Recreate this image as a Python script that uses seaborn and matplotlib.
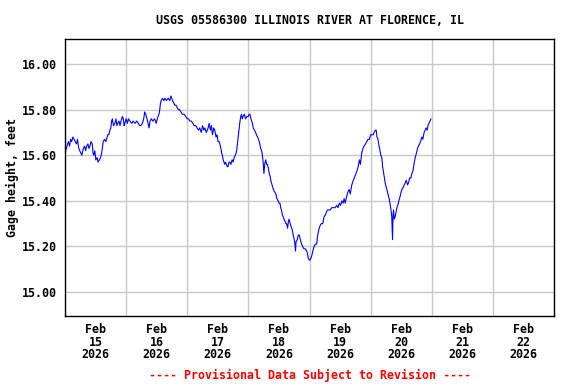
import matplotlib
matplotlib.use("Agg")
import matplotlib.pyplot as plt
import matplotlib.dates as mdates
import matplotlib.ticker as mticker
import numpy as np
import pandas as pd
import seaborn as sns

# hours since 2026-02-15 00:00 and gage height (ft)
hours = [
    0.0, 0.2, 0.8, 1.3, 1.8, 2.2, 2.6, 3.1, 3.6, 4.0, 4.5, 4.9, 5.4, 5.8, 6.2, 6.6,
    7.2, 7.7, 8.1, 8.5, 9.0, 9.4, 9.8, 10.2, 10.7, 11.0, 11.3, 11.7, 12.1, 12.6, 13.0,
    13.5, 14.0, 14.4, 15.0, 15.5, 16.0, 16.3, 16.8, 17.2, 17.6, 18.0, 18.3, 18.6, 19.0,
    19.6, 20.0, 20.4, 20.7, 21.2, 21.6, 22.0, 22.5, 22.9, 23.2, 23.5, 24.0, 24.5, 24.9,
    25.5, 26.2, 26.8, 27.5, 28.2, 28.8, 29.3, 29.8, 30.4, 30.9, 31.3, 31.7, 32.2, 32.6,
    33.0, 33.4, 33.9, 34.5, 35.2, 35.8, 36.5, 36.9, 37.2, 37.5, 37.8, 38.3, 38.8, 39.3,
    39.8, 40.5, 41.1, 41.6, 42.2, 42.7, 43.1, 43.6, 44.0, 44.5, 45.0, 45.5, 46.1, 46.8,
    47.4, 48.0, 48.5, 49.0, 49.6, 50.2, 50.7, 51.3, 51.9, 52.4, 52.9, 53.5, 54.0, 54.5,
    54.9, 55.5, 56.2, 56.6, 57.1, 57.5, 57.9, 58.4, 58.8, 59.3, 59.7, 60.1, 60.5, 60.8,
    61.2, 61.5, 61.8, 62.1, 62.4, 62.7, 63.0, 63.4, 63.7, 64.0, 64.4, 64.7, 65.1, 65.6,
    66.0, 66.4, 66.9, 67.4, 67.7, 68.0, 68.3, 68.6, 69.0, 69.3, 69.6, 69.9, 70.4, 70.9,
    71.4, 71.9, 72.3, 72.6, 73.0, 73.3, 73.6, 73.9, 74.4, 74.8, 75.2, 75.6, 76.0, 76.5,
    76.8, 77.2, 77.5, 77.8, 78.1, 78.4, 78.8, 79.2, 79.5, 79.9, 80.2, 80.5, 80.8, 81.3,
    81.8, 82.3, 82.8, 83.2, 83.7, 84.0, 84.4, 84.7, 85.0, 85.3, 85.7, 86.0, 86.4, 86.7,
    87.0, 87.4, 87.7, 88.0, 88.4, 88.7, 89.0, 89.3, 89.6, 90.0, 90.3, 90.5, 90.7, 91.2,
    91.6, 92.0, 92.4, 92.9, 93.3, 93.8, 94.3, 94.9, 95.2, 95.5, 95.9, 96.2, 96.6, 96.9,
    97.3, 97.8, 98.3, 98.8, 99.1, 99.4, 99.8, 100.1, 100.6, 101.2, 101.7, 102.3, 103.0,
    103.5, 104.1, 104.7, 105.4, 106.0, 106.7, 107.2, 107.7, 108.2, 108.7, 109.2, 109.6,
    110.0, 110.6, 111.1, 111.6, 112.0, 112.6, 112.9, 113.2, 113.9, 114.6, 115.1, 115.6,
    116.0, 116.5, 117.0, 117.4, 118.0, 118.5, 119.0, 119.5, 120.0, 120.5, 121.0, 121.4,
    121.8, 122.2, 122.5, 122.9, 123.3, 123.7, 124.0, 124.4, 124.7, 125.0, 125.4, 125.7,
    126.1, 126.4, 127.0, 127.3, 127.7, 128.0, 128.3, 128.6, 128.8, 129.0, 129.3, 129.6,
    130.0, 130.3, 130.6, 130.9, 131.3, 131.6, 132.0, 132.3, 132.8, 133.2, 133.6, 134.0,
    134.5, 134.9, 135.3, 135.8, 136.2, 136.6, 137.0, 137.5, 138.0, 138.4, 138.8, 139.2,
    139.6, 140.1, 140.5, 141.0, 141.4, 141.8, 142.2, 142.5, 142.9, 143.3, 143.7,
]
gage_ft = [
    15.61, 15.62, 15.64, 15.66, 15.64, 15.67, 15.66, 15.68, 15.67, 15.66, 15.65, 15.67, 15.63, 15.62, 15.61, 15.60,
    15.63, 15.64, 15.62, 15.64, 15.65, 15.63, 15.64, 15.66, 15.65, 15.61, 15.60, 15.62, 15.58, 15.59, 15.57,
    15.58, 15.59, 15.61, 15.66, 15.67, 15.66, 15.67, 15.69, 15.69, 15.71, 15.72, 15.75, 15.76, 15.73,
    15.74, 15.76, 15.73, 15.74, 15.75, 15.73, 15.75, 15.77, 15.76, 15.73, 15.74, 15.76, 15.74, 15.76,
    15.75, 15.74, 15.75, 15.74, 15.75, 15.74, 15.73, 15.73, 15.74, 15.76, 15.79, 15.78, 15.76, 15.74,
    15.72, 15.75, 15.76, 15.75, 15.76, 15.74, 15.77, 15.78, 15.80, 15.83, 15.84, 15.85, 15.84, 15.85,
    15.84, 15.85, 15.84, 15.86, 15.84, 15.83, 15.82, 15.82, 15.81, 15.80, 15.80, 15.79, 15.78, 15.78,
    15.77, 15.76, 15.76, 15.75, 15.75, 15.74, 15.73, 15.73, 15.72, 15.71, 15.72, 15.70, 15.73, 15.71,
    15.72, 15.70, 15.72, 15.74, 15.71, 15.73, 15.69, 15.72, 15.71, 15.68, 15.69, 15.66, 15.66, 15.65,
    15.63, 15.61, 15.60, 15.58, 15.57, 15.56, 15.57, 15.56, 15.55, 15.55, 15.57, 15.57, 15.56, 15.58,
    15.57, 15.59, 15.60, 15.62, 15.65, 15.68, 15.71, 15.74, 15.77, 15.78, 15.76, 15.77, 15.78, 15.76,
    15.77, 15.77, 15.78, 15.78, 15.76, 15.75, 15.74, 15.72, 15.71, 15.70, 15.69, 15.68, 15.67, 15.65,
    15.63, 15.62, 15.60, 15.57, 15.52, 15.56, 15.58, 15.56, 15.56, 15.54, 15.52, 15.51, 15.49, 15.47,
    15.45, 15.44, 15.43, 15.41, 15.40, 15.39, 15.39, 15.37, 15.36, 15.34, 15.33, 15.32, 15.31, 15.30,
    15.30, 15.28, 15.31, 15.32, 15.30, 15.29, 15.28, 15.27, 15.25, 15.23, 15.21, 15.18, 15.22, 15.23,
    15.25, 15.25, 15.23, 15.21, 15.20, 15.19, 15.19, 15.18, 15.17, 15.15, 15.14, 15.14, 15.15, 15.16,
    15.18, 15.20, 15.21, 15.21, 15.24, 15.26, 15.28, 15.29, 15.30, 15.30, 15.33, 15.34, 15.36,
    15.36, 15.36, 15.37, 15.37, 15.37, 15.38, 15.37, 15.39, 15.38, 15.40, 15.39, 15.41,
    15.39, 15.42, 15.44, 15.45, 15.43, 15.47, 15.48, 15.49, 15.51, 15.53, 15.55, 15.58,
    15.56, 15.61, 15.63, 15.64, 15.65, 15.66, 15.67, 15.67, 15.69, 15.69, 15.69, 15.70,
    15.71, 15.71, 15.68, 15.67, 15.64, 15.62, 15.60, 15.59, 15.55, 15.53, 15.50, 15.48,
    15.46, 15.45, 15.42, 15.41, 15.38, 15.36, 15.33, 15.23, 15.34, 15.36, 15.32, 15.33,
    15.35, 15.37, 15.38, 15.39, 15.41, 15.42, 15.44, 15.45, 15.46, 15.47, 15.48, 15.49,
    15.47, 15.48, 15.50, 15.50, 15.52, 15.53, 15.56, 15.59, 15.61, 15.63, 15.64, 15.65,
    15.66, 15.68, 15.67, 15.70, 15.71, 15.72, 15.71, 15.73, 15.74, 15.75, 15.76,
]
y_ticks = [15.00, 15.20, 15.40, 15.60, 15.80, 16.00]
start = pd.Timestamp("2026-02-15 00:00")
end = pd.Timestamp("2026-02-23 00:00")

sns.set_style("white")
plt.rcParams["font.family"] = ["DejaVu Sans Mono"]
plt.rcParams["font.weight"] = "bold"
plt.rcParams["text.color"] = "black"

df = pd.DataFrame({
    "time": start + pd.to_timedelta(hours, unit="h"),
    "gage": gage_ft,
})

fig = plt.figure(figsize=(5.76, 3.84), dpi=100)
ax = fig.add_axes([65 / 576, 1 - 316 / 384, (554 - 65) / 576, (316 - 39) / 384])

sns.lineplot(data=df, x="time", y="gage", color="#0000ff", lw=0.8,
             estimator=None, ax=ax)

ax.set_xlim(start, end)
ax.set_ylim(14.895, 16.11)

# labels at noon, grid at midnight
ax.xaxis.set_major_locator(mdates.HourLocator(byhour=[12]))
ax.xaxis.set_major_formatter(mdates.DateFormatter("%b\n%d\n%Y"))
ax.xaxis.set_minor_locator(mdates.HourLocator(byhour=[0]))
ax.set_yticks(y_ticks)
ax.yaxis.set_major_formatter(mticker.FormatStrFormatter("%.2f"))

ax.grid(False)
ax.grid(True, which="minor", axis="x", color="#c8c8c8", lw=1)
ax.grid(True, which="major", axis="y", color="#c8c8c8", lw=1)
ax.set_axisbelow(True)
ax.tick_params(axis="both", which="both", length=0, labelsize=8.4,
               colors="black", labelcolor="black")
ax.tick_params(axis="x", pad=5)
ax.tick_params(axis="y", pad=6)
for lbl in ax.get_xticklabels() + ax.get_yticklabels():
    lbl.set_fontweight("bold")
    lbl.set_linespacing(0.97)

for sp in ax.spines.values():
    sp.set_color("black")
    sp.set_linewidth(1)

ax.set_xlabel("")
ax.set_ylabel("Gage height, feet", fontsize=8.4, fontweight="bold",
              color="black", labelpad=2)

fig.text(310 / 576, 1 - 20 / 384, "USGS 05586300 ILLINOIS RIVER AT FLORENCE, IL",
         ha="center", va="center", fontsize=8.4, fontweight="bold", color="black")
fig.text(310 / 576, 1 - 375 / 384, "---- Provisional Data Subject to Revision ----",
         ha="center", va="center", fontsize=8.4, fontweight="bold", color="red")

fig.savefig("out.png", dpi=100)
